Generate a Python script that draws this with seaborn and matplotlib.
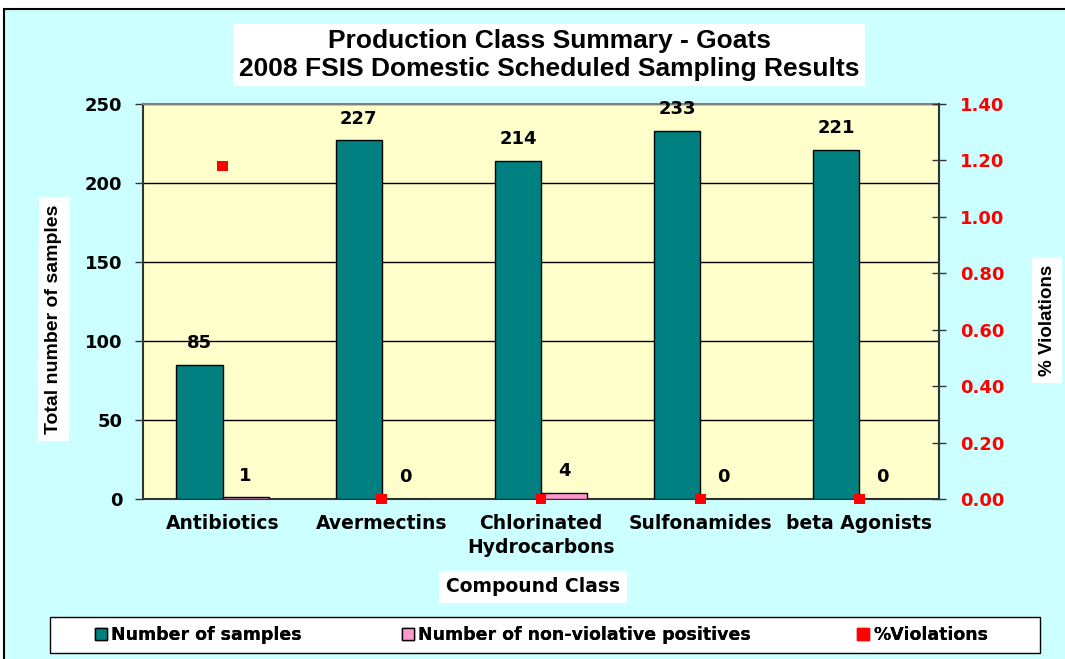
import numpy as np
import pandas as pd
import seaborn as sns
import matplotlib.pyplot as plt
from matplotlib.patches import Patch, Rectangle
from matplotlib.lines import Line2D

categories = ["Antibiotics", "Avermectins", "Chlorinated\nHydrocarbons", "Sulfonamides", "beta Agonists"]
n_samples = [85, 227, 214, 233, 221]
n_positives = [1, 0, 4, 0, 0]
pct_violations = [1.18, 0.0, 0.0, 0.0, 0.0]
series_names = ["Number of samples", "Number of non-violative positives"]

teal = "#008080"
pink = "#FF99CC"
bold_font = "DejaVu Sans"
narrow_font = ["Liberation Sans", "DejaVu Sans"]

df = pd.DataFrame({
    "Compound Class": categories * 2,
    "value": n_samples + n_positives,
    "series": [series_names[0]] * len(categories) + [series_names[1]] * len(categories),
})

sns.set_style("white")
plt.rcParams["font.family"] = bold_font
plt.rcParams["font.weight"] = "bold"
plt.rcParams["text.color"] = "black"
plt.rcParams["xtick.color"] = "black"
plt.rcParams["ytick.color"] = "black"

fig = plt.figure(figsize=(10.65, 6.59), dpi=100, facecolor="white")
fig.patches.append(Rectangle((4 / 1065, -0.05), 1.2, 1 - 9 / 659 + 0.05, transform=fig.transFigure,
                             facecolor="#CCFFFF", edgecolor="black", linewidth=1.5, zorder=-10))

ax = fig.add_axes([143 / 1065, 1 - 499 / 659, (939 - 143) / 1065, (499 - 104) / 659])
ax.set_facecolor("#FFFFCC")

sns.barplot(data=df, x="Compound Class", y="value", hue="series", palette=[teal, pink],
            saturation=1, width=0.58, edgecolor="black", linewidth=1, ax=ax, legend=False, zorder=3)

for cont in ax.containers:
    ax.bar_label(cont, padding=9, fontsize=13, fontweight="bold", color="black")

ax.set_ylim(0, 250)
ax.set_yticks(np.arange(0, 251, 50))
ax.set_xlim(-0.5, len(categories) - 0.5)
ax.yaxis.grid(True, color="black", linewidth=1)
ax.set_axisbelow(True)
ax.set_xlabel("")
ax.set_ylabel("")
ax.tick_params(axis="y", direction="out", length=6, width=1, color="#333333", pad=9, labelsize=13)
ax.tick_params(axis="x", length=0, pad=11, labelsize=13.5)
ax.set_xticks(np.arange(len(categories) - 1) + 0.5, minor=True)
ax.tick_params(axis="x", which="minor", direction="inout", length=8, width=1, color="#333333")
for lbl in ax.get_xticklabels() + ax.get_yticklabels():
    lbl.set_fontweight("bold")
for lbl in ax.get_xticklabels():
    lbl.set_linespacing(1.3)

for side in ["left", "bottom", "right"]:
    ax.spines[side].set_color("#333333")
    ax.spines[side].set_linewidth(1.5)
ax.spines["top"].set_color("#808080")
ax.spines["top"].set_linewidth(1.5)

ax2 = ax.twinx()
sns.scatterplot(x=np.arange(len(categories)), y=pct_violations, marker="s", color="red",
                s=60, edgecolor="none", ax=ax2, clip_on=False, zorder=5)
ax2.set_ylim(0, 1.4)
ax2.set_yticks(np.arange(0, 1.41, 0.2))
ax2.set_yticklabels([f"{v:.2f}" for v in np.arange(0, 1.41, 0.2)], color="red", fontweight="bold")
ax2.tick_params(axis="y", direction="inout", length=10, width=1, color="#333333", pad=10, labelsize=13)
ax2.set_xlim(-0.5, len(categories) - 0.5)
for side in ["left", "bottom", "top"]:
    ax2.spines[side].set_visible(False)
ax2.spines["right"].set_color("#333333")
ax2.spines["right"].set_linewidth(1.5)

white_box = dict(facecolor="white", edgecolor="none", pad=5)
fig.text(549 / 1065, 1 - 55 / 659, "Production Class Summary - Goats\n2008 FSIS Domestic Scheduled Sampling Results",
         ha="center", va="center", fontsize=19, fontweight="bold", family=narrow_font,
         linespacing=1.2, bbox=dict(facecolor="white", edgecolor="none", pad=4))
fig.text(54 / 1065, 1 - 319 / 659, "Total number of samples", rotation=90, ha="center", va="center",
         fontsize=14, fontweight="bold", family=narrow_font, bbox=white_box)
fig.text(1047 / 1065, 1 - 320 / 659, "% Violations", rotation=90, ha="center", va="center",
         fontsize=13.5, fontweight="bold", family=narrow_font, bbox=white_box)
fig.text(533 / 1065, 1 - 587 / 659, "Compound Class", ha="center", va="center",
         fontsize=13.5, fontweight="bold", bbox=white_box)

# legend frame, then one entry per legend so the spacing follows the original
fig.patches.append(Rectangle((50 / 1065, 1 - 653 / 659), 990 / 1065, 36 / 659, transform=fig.transFigure,
                             facecolor="white", edgecolor="black", linewidth=1, zorder=1))
handles = [
    Patch(facecolor=teal, edgecolor="black", label=series_names[0]),
    Patch(facecolor=pink, edgecolor="black", label=series_names[1]),
    Line2D([], [], marker="s", color="red", linestyle="none", markersize=8, label="%Violations"),
]
entry_x = [95, 402, 857]
for h, xpos in zip(handles, entry_x):
    leg = fig.legend(handles=[h], loc="center left", bbox_to_anchor=(xpos / 1065, 1 - 635 / 659),
                     frameon=False, handlelength=0.7, handleheight=0.7, handletextpad=0.25,
                     borderpad=0, borderaxespad=0, prop={"weight": "bold", "size": 12.5})
    fig.add_artist(leg)

fig.savefig("out.png", dpi=100)
